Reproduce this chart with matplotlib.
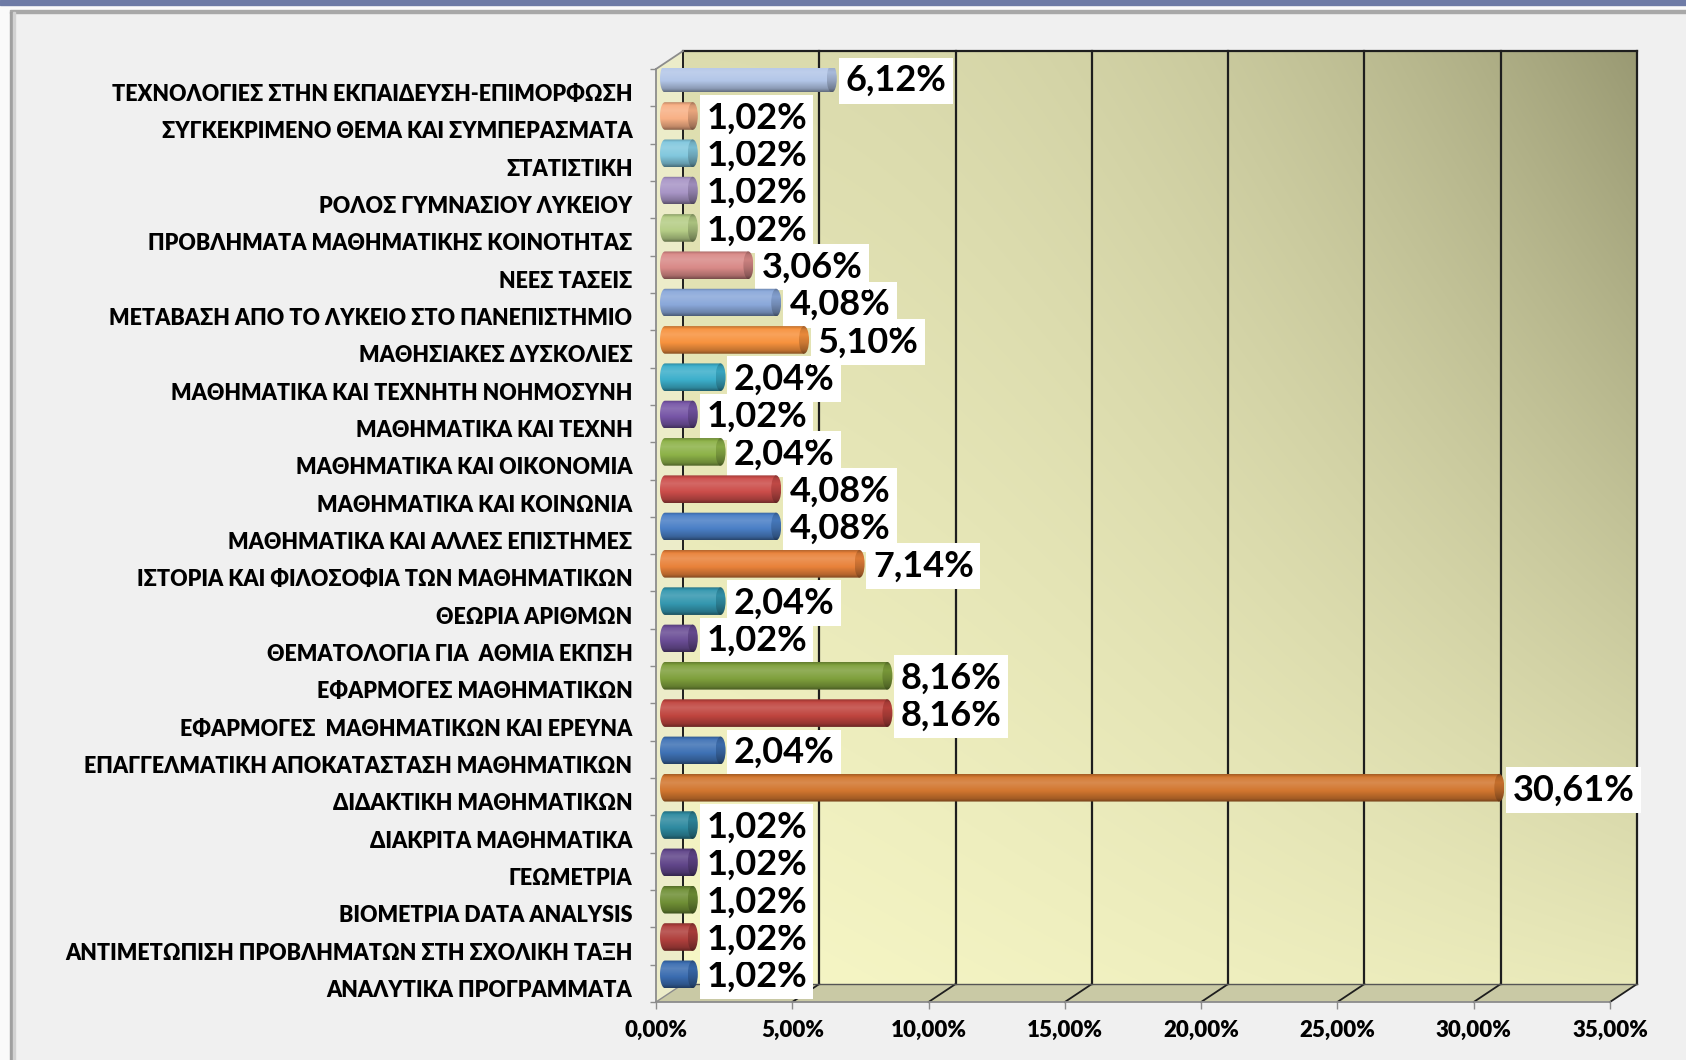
import numpy as np
import matplotlib
matplotlib.use("Agg")
import matplotlib.pyplot as plt
from matplotlib.colors import to_rgb
from matplotlib.patches import Polygon, Rectangle, Ellipse
from matplotlib.transforms import ScaledTranslation

# data, bottom to top as drawn
categories = [
    "ΑΝΑΛΥΤΙΚΑ ΠΡΟΓΡΑΜΜΑΤΑ",
    "ΑΝΤΙΜΕΤΩΠΙΣΗ ΠΡΟΒΛΗΜΑΤΩΝ ΣΤΗ ΣΧΟΛΙΚΗ ΤΑΞΗ",
    "ΒΙΟΜΕΤΡΙΑ DATA ANALYSIS",
    "ΓΕΩΜΕΤΡΙΑ",
    "ΔΙΑΚΡΙΤΑ ΜΑΘΗΜΑΤΙΚΑ",
    "ΔΙΔΑΚΤΙΚΗ ΜΑΘΗΜΑΤΙΚΩΝ",
    "ΕΠΑΓΓΕΛΜΑΤΙΚΗ ΑΠΟΚΑΤΑΣΤΑΣΗ ΜΑΘΗΜΑΤΙΚΩΝ",
    "ΕΦΑΡΜΟΓΕΣ  ΜΑΘΗΜΑΤΙΚΩΝ ΚΑΙ ΕΡΕΥΝΑ",
    "ΕΦΑΡΜΟΓΕΣ ΜΑΘΗΜΑΤΙΚΩΝ",
    "ΘΕΜΑΤΟΛΟΓΙΑ ΓΙΑ  ΑΘΜΙΑ ΕΚΠΣΗ",
    "ΘΕΩΡΙΑ ΑΡΙΘΜΩΝ",
    "ΙΣΤΟΡΙΑ ΚΑΙ ΦΙΛΟΣΟΦΙΑ ΤΩΝ ΜΑΘΗΜΑΤΙΚΩΝ",
    "ΜΑΘΗΜΑΤΙΚΑ ΚΑΙ ΑΛΛΕΣ ΕΠΙΣΤΗΜΕΣ",
    "ΜΑΘΗΜΑΤΙΚΑ ΚΑΙ ΚΟΙΝΩΝΙΑ",
    "ΜΑΘΗΜΑΤΙΚΑ ΚΑΙ ΟΙΚΟΝΟΜΙΑ",
    "ΜΑΘΗΜΑΤΙΚΑ ΚΑΙ ΤΕΧΝΗ",
    "ΜΑΘΗΜΑΤΙΚΑ ΚΑΙ ΤΕΧΝΗΤΗ ΝΟΗΜΟΣΥΝΗ",
    "ΜΑΘΗΣΙΑΚΕΣ ΔΥΣΚΟΛΙΕΣ",
    "ΜΕΤΑΒΑΣΗ ΑΠΟ ΤΟ ΛΥΚΕΙΟ ΣΤΟ ΠΑΝΕΠΙΣΤΗΜΙΟ",
    "ΝΕΕΣ ΤΑΣΕΙΣ",
    "ΠΡΟΒΛΗΜΑΤΑ ΜΑΘΗΜΑΤΙΚΗΣ ΚΟΙΝΟΤΗΤΑΣ",
    "ΡΟΛΟΣ ΓΥΜΝΑΣΙΟΥ ΛΥΚΕΙΟΥ",
    "ΣΤΑΤΙΣΤΙΚΗ",
    "ΣΥΓΚΕΚΡΙΜΕΝΟ ΘΕΜΑ ΚΑΙ ΣΥΜΠΕΡΑΣΜΑΤΑ",
    "ΤΕΧΝΟΛΟΓΙΕΣ ΣΤΗΝ ΕΚΠΑΙΔΕΥΣΗ-ΕΠΙΜΟΡΦΩΣΗ",
]
values = [1.02, 1.02, 1.02, 1.02, 1.02, 30.61, 2.04, 8.16, 8.16, 1.02, 2.04, 7.14, 4.08,
          4.08, 2.04, 1.02, 2.04, 5.10, 4.08, 3.06, 1.02, 1.02, 1.02, 1.02, 6.12]
bar_colors = ["#3A6CB0", "#B0403D", "#6F8F35", "#61468A", "#2E8AA0", "#D2762F",
              "#3F72B5", "#C0453F", "#7FA03C", "#6A4D95", "#3497AF", "#E9823A",
              "#4A7FC6", "#CC4D4A", "#8DB248", "#7655A6", "#3CAFCB", "#F7923E",
              "#8AA8DA", "#D98A88", "#B5CD86", "#A895C6", "#82C8DE", "#F8B085", "#B3C6E8"]
xticks = [0, 5, 10, 15, 20, 25, 30, 35]

W, H = 1686, 1060
FONTS = ["Lato", "Open Sans", "DejaVu Sans"]

fig = plt.figure(figsize=(W / 100, H / 100), dpi=100, facecolor="#F0F0F0")

# slide frame
fig.add_artist(Rectangle((0, 1 - 11 / H), 1, 11 / H, transform=fig.transFigure, color="#FAFAFA", zorder=0))
fig.add_artist(Rectangle((0, 0), 10 / W, 1, transform=fig.transFigure, color="#FAFAFA", zorder=0))
fig.add_artist(Rectangle((0, 1 - 5 / H), 1, 5 / H, transform=fig.transFigure, color="#6E7BA6", zorder=1))
fig.add_artist(Rectangle((10 / W, 1 - 13 / H), 1, 3 / H, transform=fig.transFigure, color="#A8A8A8", zorder=1))
fig.add_artist(Rectangle((10 / W, 0), 3 / W, 1 - 12 / H, transform=fig.transFigure, color="#A0A0A0", zorder=1))
fig.add_artist(Rectangle((13 / W, 0), 2 / W, 1 - 12 / H, transform=fig.transFigure, color="#D2D2D2", zorder=1))

left_px, right_px, top_px, bottom_px = 656, 1610, 69, 1002
n = len(categories)
ax = fig.add_axes([left_px / W, 1 - bottom_px / H, (right_px - left_px) / W, (bottom_px - top_px) / H])
ax.patch.set_visible(False)
ppx = (right_px - left_px) / 35.0
ppy = (bottom_px - top_px) / n
DX, DY = 27 / ppx, 18 / ppy   # depth of the 3d box
BX, BY = 9 / ppx, 9 / ppy     # bars sit a bit inside the box
y_lo, y_hi = -0.5, n - 0.5

# back wall with gradient
u = np.linspace(0, 1, 200)[None, :]
v = np.linspace(0, 1, 200)[:, None]
t = 0.28 * v + 0.68 * u ** 2.2 * v + 0.15 * u * (1 - v)
light = np.array(to_rgb("#F7F7C6"))
dark = np.array(to_rgb("#969670"))
wall = light + (dark - light) * t[..., None]
ax.imshow(wall, extent=[DX, 35 + DX, y_lo + DY, y_hi + DY], origin="lower", aspect="auto",
          interpolation="bilinear", zorder=0.5, clip_on=False)

# left wall and floor
ax.add_patch(Polygon([(0, y_lo), (DX, y_lo + DY), (DX, y_hi + DY), (0, y_hi)], closed=True,
                     facecolor="#ECECC9", edgecolor="none", zorder=0.6, clip_on=False))
ax.add_patch(Polygon([(0, y_lo), (35, y_lo), (35 + DX, y_lo + DY), (DX, y_lo + DY)], closed=True,
                     facecolor="#C9C9A5", edgecolor="none", zorder=0.6, clip_on=False))

grid_c = "#1E1E1E"
for x in xticks[1:]:
    ax.plot([x + DX, x + DX], [y_lo + DY, y_hi + DY], color=grid_c, lw=1.6, zorder=1, clip_on=False)
    ax.plot([x, x + DX], [y_lo, y_lo + DY], color=grid_c, lw=1.3, zorder=1, clip_on=False)
ax.plot([DX, DX], [y_lo + DY, y_hi + DY], color=grid_c, lw=1.4, zorder=1, clip_on=False)
ax.plot([DX, 35 + DX], [y_hi + DY, y_hi + DY], color=grid_c, lw=1.6, zorder=1, clip_on=False)
ax.plot([DX, 35 + DX], [y_lo + DY, y_lo + DY], color="#555555", lw=1.0, zorder=1, clip_on=False)
ax.plot([0, DX], [y_hi, y_hi + DY], color="#8C8C8C", lw=1.3, zorder=1, clip_on=False)
ax.plot([0, DX], [y_lo, y_lo + DY], color="#8C8C8C", lw=1.0, zorder=1, clip_on=False)

# cylinder shading profile (0 = bottom, 1 = top)
prof_s = [0.0, 0.12, 0.4, 0.7, 0.88, 1.0]
prof_f = [0.55, 0.78, 1.0, 1.15, 1.05, 0.78]


def cyl_grad(color, k=1.0, steps=64):
    c = np.array(to_rgb(color))
    f = np.interp(np.linspace(0, 1, steps), prof_s, prof_f) * k
    rows = [c * fi if fi <= 1 else c + (1 - c) * (fi - 1) for fi in f]
    return np.clip(np.array(rows), 0, 1)[:, None, :]


bh = 0.74
cap = 10 / ppx
th = np.linspace(np.pi / 2, 3 * np.pi / 2, 40)
for i, (val, col) in enumerate(zip(values, bar_colors)):
    yc = i + BY
    x0, x1 = BX, val + BX
    y0, y1 = yc - bh / 2, yc + bh / 2
    verts = np.column_stack([x0 + cap / 2 * np.cos(th), yc + bh / 2 * np.sin(th)])
    verts = np.vstack([verts, [[x1, y0], [x1, y1]]])
    body = Polygon(verts, closed=True, transform=ax.transData)
    im = ax.imshow(cyl_grad(col), extent=[x0 - cap / 2, x1, y0, y1], origin="lower",
                   aspect="auto", interpolation="bilinear", zorder=5)
    im.set_clip_path(body)
    im.set_clip_box(None)
    end = Ellipse((x1, yc), cap, bh, transform=ax.transData)
    im2 = ax.imshow(cyl_grad(col, 0.82), extent=[x1 - cap / 2, x1 + cap / 2, y0, y1], origin="lower",
                    aspect="auto", interpolation="bilinear", zorder=5.1)
    im2.set_clip_path(end)
    im2.set_clip_box(None)

    ax.annotate(f"{val:.2f}%".replace(".", ","), xy=(x1 + cap / 2, yc), xytext=(6, -1.5),
                textcoords="offset points", ha="left", va="center", fontsize=26,
                fontweight="bold", family=FONTS, color="black", zorder=4,
                bbox=dict(boxstyle="square,pad=0.18", facecolor="white", edgecolor="none"))

ax.set_xlim(0, 35)
ax.set_ylim(y_lo, y_hi)
ax.set_xticks(xticks)
ax.set_xticklabels([f"{x:.2f}%".replace(".", ",") for x in xticks], fontsize=16,
                   fontweight="heavy", family=FONTS)
ax.set_yticks(range(n))
ax.set_yticklabels(categories, fontsize=15.5, fontweight="heavy", family=FONTS)
ax.set_yticks(np.arange(-0.5, n, 1.0), minor=True)
ax.tick_params(axis="y", which="major", length=0, pad=17)
ax.tick_params(axis="y", which="minor", length=4, color="#8C8C8C", width=1)
ax.tick_params(axis="x", which="major", length=5, color="#8C8C8C", width=1, pad=8)
for s in ["top", "right"]:
    ax.spines[s].set_visible(False)
for s in ["left", "bottom"]:
    ax.spines[s].set_color("#8C8C8C")
    ax.spines[s].set_linewidth(1.3)

# category names sit a little below the band centre
shift = ScaledTranslation(0, -5 / 100, fig.dpi_scale_trans)
for lab in ax.get_yticklabels():
    lab.set_transform(lab.get_transform() + shift)

fig.savefig("out.png", dpi=100, facecolor=fig.get_facecolor())
